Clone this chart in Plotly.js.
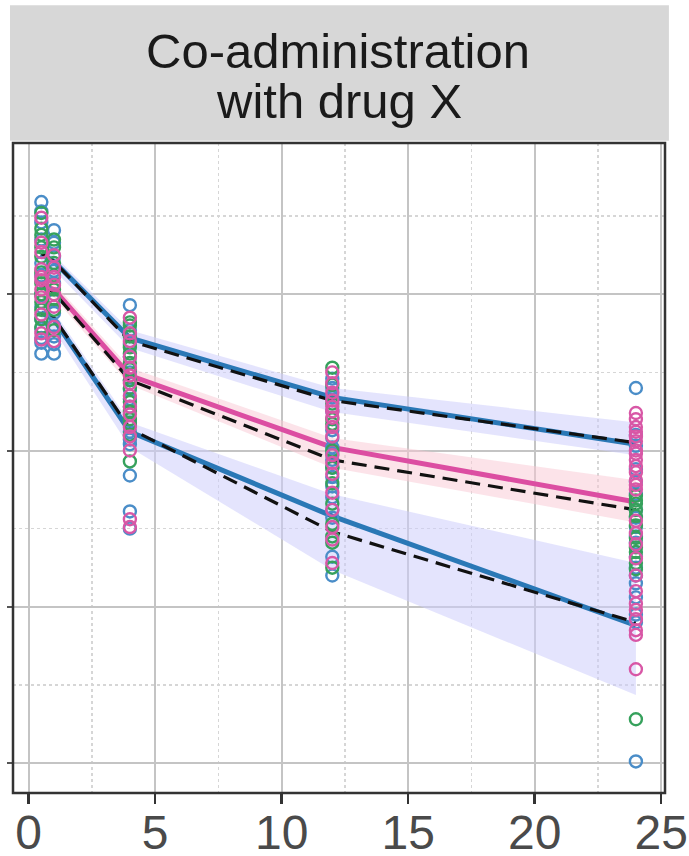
<!DOCTYPE html>
<html>
<head>
<meta charset="utf-8">
<script src="https://cdn.plot.ly/plotly-3.0.1.min.js"></script>
<style>html,body{margin:0;padding:0;background:#fff;}#chart{width:689px;height:856px;}</style>
</head>
<body>
<div id="chart"></div>
<script>
// Time bins (h)
const timeBins = [0.5, 1, 4, 12, 24];
// Percentile lines (log10 concentration units)
const simP95 = [3.26, 3.21, 2.72, 2.34, 2.04];
const obsP95 = [3.26, 3.21, 2.70, 2.32, 2.05];
const simP50 = [3.06, 3.03, 2.48, 2.02, 1.67];
const obsP50 = [3.06, 3.01, 2.45, 1.94, 1.62];
const simP05 = [2.88, 2.84, 2.12, 1.58, 0.88];
const obsP05 = [2.88, 2.85, 2.14, 1.48, 0.90];
// Confidence ribbons
const ciP95Lo = [3.17, 3.155, 2.656, 2.246, 1.97];
const ciP95Hi = [3.30, 3.25, 2.77, 2.40, 2.18];
const ciP50Lo = [3.00, 2.98, 2.42, 1.89, 1.54];
const ciP50Hi = [3.10, 3.07, 2.53, 2.08, 1.81];
const ciP05Lo = [2.80, 2.77, 2.02, 1.235, 0.435];
const ciP05Hi = [2.93, 2.89, 2.18, 1.72, 1.28];

// Observations
const blueT = [0.5,0.5,0.5,0.5,0.5,0.5,0.5,0.5,0.5,0.5,0.5,0.5,0.5,
  1,1,1,1,1,1,1,1,1,1,1,
  4,4,4,4,4,4,4,4,4,4,4,4,4,4,4,4,
  12,12,12,12,12,12,12,12,12,12,12,12,12,12,12,12,12,
  24,24,24,24,24,24,24,24,24,24,24,24,24,24,24,24,24,24,24];
const blueY = [3.59,3.53,3.46,3.00,2.92,2.84,2.69,2.62,3.20,3.35,3.12,2.78,2.72,
  3.41,3.24,3.07,2.96,2.88,2.73,2.62,3.15,3.33,2.80,2.68,
  2.93,2.77,2.39,2.33,2.28,2.04,1.84,1.61,1.50,2.60,2.50,2.45,2.18,2.12,2.07,2.68,
  2.46,2.34,2.13,2.02,1.98,1.94,1.83,1.77,1.57,1.32,1.20,2.25,2.40,2.08,1.89,1.70,1.62,
  2.40,2.03,1.57,1.51,1.41,1.32,1.15,1.06,0.90,0.01,1.72,2.10,1.88,1.62,1.45,1.25,1.20,0.95,1.80];
const greenT = [0.5,0.5,0.5,0.5,0.5,0.5,0.5,0.5,0.5,0.5,0.5,0.5,
  1,1,1,1,1,1,1,1,
  4,4,4,4,4,4,4,4,4,4,4,4,4,4,4,
  12,12,12,12,12,12,12,12,12,12,12,12,12,
  24,24,24,24,24,24,24,24,24,24,24,24];
const greenY = [3.38,3.30,3.24,3.07,3.00,2.95,2.84,3.42,3.14,2.90,2.79,3.52,
  3.35,3.30,3.03,3.20,2.90,3.12,2.97,2.77,
  2.82,2.80,2.73,2.66,2.52,2.45,2.20,2.17,1.93,2.62,2.56,2.40,2.31,2.25,2.10,
  2.53,2.20,1.89,1.66,1.45,1.41,1.25,2.30,2.42,2.17,2.00,1.79,1.53,
  1.68,1.66,1.28,1.24,0.28,1.62,1.35,1.71,1.52,1.44,1.38,1.58];
const pinkT = [0.5,0.5,0.5,0.5,0.5,0.5,0.5,0.5,0.5,0.5,0.5,
  1,1,1,1,1,1,1,1,
  4,4,4,4,4,4,4,4,4,4,4,4,4,4,4,
  12,12,12,12,12,12,12,12,12,12,12,12,12,12,12,12,12,
  24,24,24,24,24,24,24,24,24,24,24,24,24,24,24,24,24,24,24,24,24,24,24,24,24,24];
const pinkY = [3.49,3.16,3.11,3.09,2.75,3.27,2.98,3.33,3.03,2.87,2.71,
  3.17,3.11,2.79,3.00,3.25,3.06,2.92,2.70,
  2.85,2.60,2.53,2.15,2.09,1.56,1.51,2.35,2.70,2.75,2.48,2.43,2.28,2.23,2.00,
  2.43,2.37,2.28,2.21,2.09,1.73,1.51,1.28,2.15,1.85,2.50,2.32,2.25,1.97,1.92,1.62,1.43,
  2.24,2.20,2.15,2.09,1.98,1.90,1.81,1.47,1.02,0.98,0.85,0.82,0.60,1.10,1.75,2.12,2.06,2.00,1.94,1.86,1.78,1.55,1.40,1.31,1.20,0.92];

const xTicks = [0, 5, 10, 15, 20, 25];
const yTicks = [0, 1, 2, 3];
const stripLine1 = "Co-administration";
const stripLine2 = "with drug X";

const BLUE = '#2a78b6', PINK = '#dc4ea2';
const LAV = 'rgba(205,205,252,0.55)', ROSE = 'rgba(250,200,212,0.5)';

function band(lo, hi, color) {
  return [
    {x: timeBins, y: lo, mode: 'lines', line: {width: 0, color: color}, hoverinfo: 'skip', showlegend: false},
    {x: timeBins, y: hi, mode: 'lines', line: {width: 0, color: color}, fill: 'tonexty', fillcolor: color, hoverinfo: 'skip', showlegend: false}
  ];
}
function line(y, color, width, dash) {
  return {x: timeBins, y: y, mode: 'lines', line: {color: color, width: width, dash: dash || 'solid'}, showlegend: false};
}
function pts(x, y, color) {
  return {x: x, y: y, mode: 'markers', marker: {symbol: 'circle-open', size: 12, color: color, line: {width: 2.4, color: color}}, showlegend: false};
}

const data = [].concat(
  band(ciP95Lo, ciP95Hi, LAV),
  band(ciP50Lo, ciP50Hi, ROSE),
  band(ciP05Lo, ciP05Hi, LAV),
  [line(simP95, BLUE, 5), line(simP50, PINK, 5), line(simP05, BLUE, 5),
   line(obsP95, '#111', 3.2, '15px,8px'), line(obsP50, '#111', 3.2, '15px,8px'), line(obsP05, '#111', 3.2, '15px,8px'),
   pts(blueT, blueY, '#4a8dc8'), pts(greenT, greenY, '#36a15c'), pts(pinkT, pinkY, '#d857a6')]
);

const layout = {
  width: 689, height: 856,
  margin: {l: 13, r: 24, t: 143, b: 63},
  paper_bgcolor: '#fff', plot_bgcolor: '#fff',
  showlegend: false,
  font: {family: 'Liberation Sans, Arial, sans-serif'},
  xaxis: {
    range: [-0.62, 25.15], tickvals: xTicks, ticktext: xTicks.map(String),
    showgrid: true, gridcolor: '#c4c4c4', gridwidth: 2,
    minor: {dtick: 2.5, tick0: 0, showgrid: true, gridcolor: '#d6d6d6', griddash: 'dot', gridwidth: 1.5, ticks: ''},
    ticks: 'outside', ticklen: 10, tickwidth: 2.5, tickcolor: '#333',
    tickfont: {size: 48, color: '#4a4a4a'},
    ticklabelstandoff: -13, ticklabeloverflow: 'allow',
    zeroline: false, showline: false
  },
  yaxis: {
    range: [-0.192, 3.968], tickvals: yTicks, showticklabels: false,
    showgrid: true, gridcolor: '#c4c4c4', gridwidth: 2,
    minor: {dtick: 0.5, tick0: 0, showgrid: true, gridcolor: '#d6d6d6', griddash: 'dot', gridwidth: 1.5, ticks: ''},
    ticks: 'outside', ticklen: 5, tickwidth: 2, tickcolor: '#555',
    zeroline: false, showline: false
  },
  shapes: [
    {type: 'rect', xref: 'paper', yref: 'paper', x0: -0.0046, x1: 1.006, y0: 1.0035, y1: 1.212,
     fillcolor: '#d7d7d7', line: {width: 0}, layer: 'above'},
    {type: 'rect', xref: 'paper', yref: 'paper', x0: 0, x1: 1, y0: 0, y1: 1,
     fillcolor: 'rgba(0,0,0,0)', line: {color: '#333', width: 2.5}, layer: 'above'}
  ],
  annotations: [
    {text: stripLine1, xref: 'paper', yref: 'paper', x: 0.4985, y: 1.141, xanchor: 'center', yanchor: 'middle',
     showarrow: false, font: {size: 49, color: '#1a1a1a'}},
    {text: stripLine2, xref: 'paper', yref: 'paper', x: 0.5, y: 1.064, xanchor: 'center', yanchor: 'middle',
     showarrow: false, font: {size: 49, color: '#1a1a1a'}}
  ]
};

Plotly.newPlot('chart', data, layout, {displayModeBar: false, staticPlot: true});
</script>
</body>
</html>
